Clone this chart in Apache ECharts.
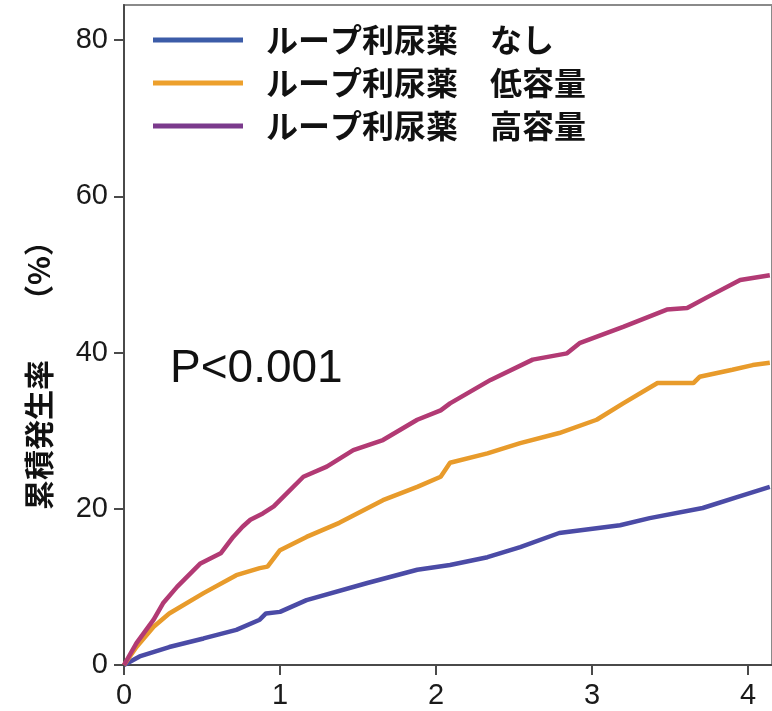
<!DOCTYPE html>
<html>
<head>
<meta charset="utf-8">
<script src="https://cdn.jsdelivr.net/npm/echarts@6/dist/echarts.min.js"></script>
<style>html,body{margin:0;padding:0;background:#fff;}#c{width:772px;height:711px;}</style>
</head>
<body>
<div id="c"></div>
<script>
// Data
const seriesNames = ['ループ利尿薬　なし', 'ループ利尿薬　低容量', 'ループ利尿薬　高容量'];
const xTicks = [0, 1, 2, 3, 4];
const yTicks = [0, 20, 40, 60, 80];

const tNone = [0, 0.1, 0.29, 0.51, 0.72, 0.87, 0.91, 1.0, 1.17, 1.56, 1.88, 2.09, 2.33, 2.54, 2.79, 3.18, 3.37, 3.71, 3.93, 4.14];
const vNone = [0, 1.1, 2.3, 3.4, 4.5, 5.8, 6.6, 6.8, 8.3, 10.5, 12.2, 12.8, 13.8, 15.1, 16.9, 17.9, 18.8, 20.1, 21.5, 22.8];

const tLow = [0, 0.08, 0.19, 0.29, 0.51, 0.72, 0.87, 0.92, 1.0, 1.17, 1.38, 1.66, 1.88, 2.03, 2.09, 2.33, 2.54, 2.79, 3.03, 3.20, 3.42, 3.65, 3.69, 3.90, 4.03, 4.14];
const vLow = [0, 2.3, 4.9, 6.6, 9.2, 11.5, 12.4, 12.6, 14.7, 16.4, 18.2, 21.1, 22.8, 24.1, 25.9, 27.1, 28.4, 29.7, 31.4, 33.5, 36.1, 36.1, 36.9, 37.8, 38.4, 38.7];

const tHigh = [0, 0.08, 0.19, 0.25, 0.34, 0.49, 0.62, 0.70, 0.76, 0.81, 0.89, 0.96, 1.0, 1.15, 1.30, 1.47, 1.66, 1.88, 2.03, 2.09, 2.35, 2.62, 2.84, 2.92, 3.20, 3.48, 3.61, 3.74, 3.95, 4.14];
const vHigh = [0, 2.8, 5.8, 7.9, 10.0, 13.0, 14.3, 16.4, 17.7, 18.6, 19.4, 20.3, 21.1, 24.1, 25.4, 27.5, 28.8, 31.4, 32.6, 33.5, 36.5, 39.1, 39.9, 41.2, 43.3, 45.5, 45.7, 47.1, 49.3, 49.9];

const zip = (a, b) => a.map((x, i) => [x, b[i]]);

const curveColors = ['#4b4ba6', '#e89b2b', '#b23a74'];
const legendColors = ['#3c5ca8', '#eda02c', '#7b3a8c'];

const chart = echarts.init(document.getElementById('c'), null, {renderer: 'canvas'});
const cjk = '"Noto Sans CJK JP", "Noto Sans", sans-serif';
const latin = '"Liberation Sans", Arial, sans-serif';

chart.setOption({
  animation: false,
  backgroundColor: '#fff',
  grid: {left: 124, top: 5, right: 0, bottom: 46, show: true, borderColor: '#8a8a8a', borderWidth: 2, containLabel: false},
  xAxis: {
    type: 'value', min: 0, max: 4.154,
    axisLine: {show: true, onZero: false, lineStyle: {color: '#4a4a4a', width: 2}},
    axisTick: {show: true, length: 10, customValues: xTicks, lineStyle: {color: '#4a4a4a', width: 2}},
    axisLabel: {customValues: xTicks, fontSize: 29, color: '#1a1a1a', fontFamily: latin, margin: 16},
    splitLine: {show: false}
  },
  yAxis: {
    type: 'value', min: 0, max: 84.5,
    axisLine: {show: true, onZero: false, lineStyle: {color: '#4a4a4a', width: 2}},
    axisTick: {show: true, length: 10, customValues: yTicks, lineStyle: {color: '#4a4a4a', width: 2}},
    axisLabel: {customValues: yTicks, fontSize: 29, color: '#1a1a1a', fontFamily: latin, margin: 16},
    splitLine: {show: false}
  },
  legend: {
    orient: 'vertical', left: 148, top: 19,
    itemWidth: 90, itemHeight: 5, itemGap: 11, icon: 'rect',
    textStyle: {fontSize: 32, fontWeight: 'bold', color: '#111', fontFamily: cjk, padding: [0, 0, 0, 18]},
    data: seriesNames.map((n, i) => ({name: n, itemStyle: {color: legendColors[i]}}))
  },
  graphic: [
    {type: 'text', left: 170, top: 346, style: {text: 'P<0.001', fontSize: 46, fill: '#111', fontFamily: latin}},
    {type: 'text', x: 39, y: 368, rotation: Math.PI / 2,
     style: {text: '累積発生率　　（%）', fontSize: 30, fontWeight: 'bold', fill: '#111', fontFamily: cjk, align: 'center', verticalAlign: 'middle'}}
  ],
  series: [
    {name: seriesNames[0], type: 'line', data: zip(tNone, vNone), showSymbol: false, symbol: 'none', lineStyle: {width: 4.5, color: curveColors[0]}, itemStyle: {color: curveColors[0]}},
    {name: seriesNames[1], type: 'line', data: zip(tLow, vLow), showSymbol: false, symbol: 'none', lineStyle: {width: 4.5, color: curveColors[1]}, itemStyle: {color: curveColors[1]}},
    {name: seriesNames[2], type: 'line', data: zip(tHigh, vHigh), showSymbol: false, symbol: 'none', lineStyle: {width: 4.5, color: curveColors[2]}, itemStyle: {color: curveColors[2]}}
  ]
});
</script>
</body>
</html>
